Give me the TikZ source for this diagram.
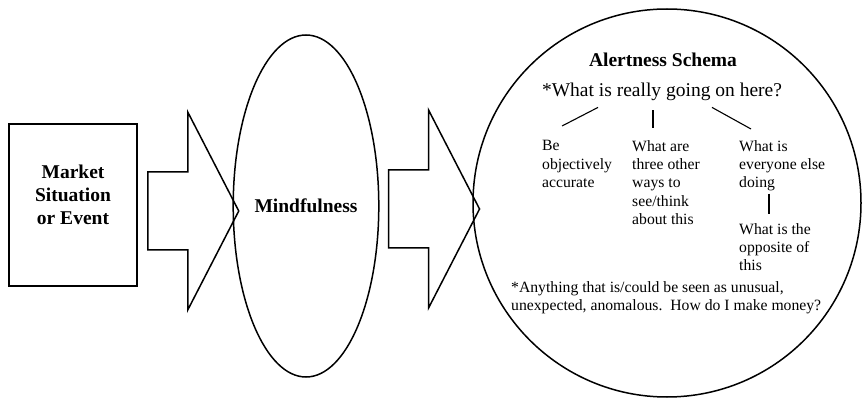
\documentclass[tikz,border=0pt]{standalone}
\usepackage{fontspec}
\setmainfont{Liberation Serif}
\usetikzlibrary{positioning,calc,shapes.geometric}
\tikzset{
  outline/.style={draw, line width=1.5pt},
  mktbox/.style={outline, rectangle, minimum width=128pt, minimum height=162pt, inner sep=0pt},
  oval/.style={outline, ellipse, minimum width=126pt, minimum height=342pt, inner sep=0pt,
               font=\fontsize{19.5}{23}\selectfont\bfseries},
  schema/.style={outline, circle, minimum size=388pt, inner sep=0pt},
  heading/.style={font=\fontsize{19.5}{23}\selectfont\bfseries, align=center, inner sep=0pt},
  ask/.style={font=\fontsize{19.5}{23}\selectfont, inner sep=0pt},
  body/.style={font=\fontsize{15.7}{18.2}\selectfont, align=left, inner sep=0pt, anchor=north west},
  tree/.style={line width=1.1pt},
  pics/bigarrow/.style={code={
    \draw[outline, line join=miter] (0,-39) -- (40,-39) -- (40,-99) -- (91,0)
      -- (40,99) -- (40,39) -- (0,39) -- cycle;}},
}
\begin{document}
\begin{tikzpicture}[x=1pt, y=-1pt]
  \useasboundingbox (0,0) rectangle (865,406);
  % left box, oval and schema circle
  \node[mktbox] (mkt) at (73,205) {};
  \node[heading] (mktlbl) at (73,195) {Market\\Situation\\or Event};
  \node[oval] (mind) at (306,206) {Mindfulness};
  \node[schema] (alert) at (667,203) {};
  % block arrows
  \pic at ($(mkt.east)+(10,6)$) {bigarrow};
  \pic at ($(mind.east)+(9,3)$) {bigarrow};
  % inside the circle
  \node[heading, anchor=base] (title) at (663,67) {Alertness Schema};
  \node[ask, anchor=base] (quest) at (662,97) {*What is really going on here?};
  \node[body] (be) at (542,140.5) {Be\\objectively\\accurate};
  \node[body] (three) at (632,140.5) {What are\\three other\\ways to\\see/think\\about this};
  \node[body] (everyone) at (739,140.5) {What is\\everyone else\\doing};
  \node[body] (opposite) at (739,223.5) {What is the\\opposite of\\this};
  \node[body] (note) at (511,281.5) {*Anything that is/could be seen as unusual,\\unexpected, anomalous.\ \ How do I make money?};
  \draw[tree] ($(quest.south)+(-64,6)$) -- ($(be.north west)+(20,-14.5)$);
  \draw[tree] ($(quest.south)+(-9,9)$) -- ($(three.north west)+(21,-12.5)$);
  \draw[tree] ($(quest.south)+(50,6)$) -- ($(everyone.north west)+(12,-11.5)$);
  \draw[tree] ($(everyone.south west)+(30,2)$) -- ($(opposite.north west)+(30,-9.5)$);
\end{tikzpicture}
\end{document}
